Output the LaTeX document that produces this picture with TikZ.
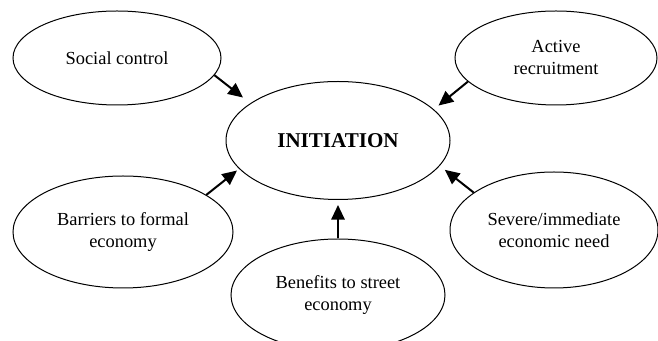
\documentclass[tikz,border=0pt]{standalone}
\usepackage{fontspec}
\setmainfont{Liberation Serif}
\usetikzlibrary{shapes.geometric,arrows.meta}
\begin{document}
\begin{tikzpicture}[x=0.75pt,y=-0.75pt,
  factor/.style={draw,ellipse,line width=0.75pt,inner sep=0pt,align=center,
    font=\fontsize{13.8}{16.5}\selectfont},
  core/.style={factor,font=\fontsize{15.8}{18}\selectfont\bfseries},
  push/.style={line width=1.5pt,-{Triangle[length=11pt,width=10pt]}}]
\useasboundingbox (0,0) rectangle (658,341);
\begin{scope}
\clip (0,0) rectangle (658,341);
\node[core,minimum width=168pt,minimum height=88.5pt] (init) at (338,140.5) {INITIATION};
\node[factor,minimum width=156pt,minimum height=70.5pt] (soc) at (117,58) {Social control};
\node[factor,minimum width=151.5pt,minimum height=70.5pt] (act) at (556,58) {Active\\recruitment};
\node[factor,minimum width=165pt,minimum height=84pt] (bar) at (123,232) {Barriers to formal\\economy};
\node[factor,minimum width=156pt,minimum height=87pt] (sev) at (554,230) {Severe/immediate\\economic need};
\node[factor,minimum width=160.5pt,minimum height=84pt] (ben) at (338,295) {Benefits to street\\economy};
\end{scope}
\draw[push,shorten >=7pt] (soc.-10) -- (init.157);
\draw[push,shorten >=4.5pt] (act.195) -- (init.18);
\draw[push,shorten >=2pt] (bar.24.6) -- (init.-164);
\draw[push,shorten >=4.8pt] (sev.155.4) -- (init.-14.2);
\draw[push,shorten >=3.75pt] (ben.90) -- (init.-90);
\end{tikzpicture}
\end{document}
